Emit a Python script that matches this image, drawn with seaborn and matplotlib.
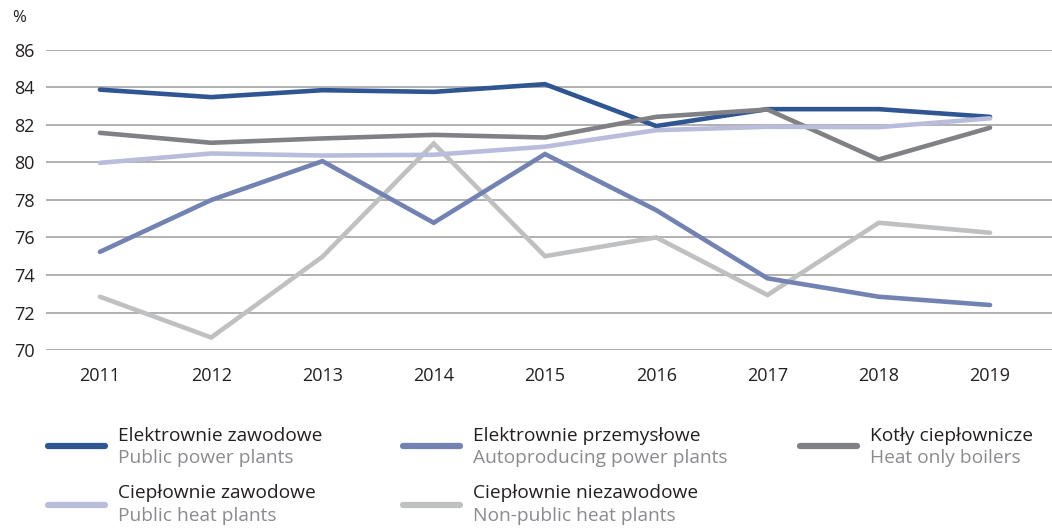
import pandas as pd
import matplotlib.pyplot as plt
import seaborn as sns
from matplotlib.lines import Line2D

sns.set_style("white")

years = [2011, 2012, 2013, 2014, 2015, 2016, 2017, 2018, 2019]
public_power = [83.87, 83.47, 83.84, 83.75, 84.16, 81.93, 82.83, 82.83, 82.42]
autoproducing = [75.23, 77.99, 80.06, 76.78, 80.44, 77.45, 73.82, 72.84, 72.40]
heat_boilers = [81.57, 81.04, 81.27, 81.46, 81.32, 82.42, 82.81, 80.15, 81.84]
public_heat = [79.97, 80.47, 80.36, 80.40, 80.83, 81.71, 81.89, 81.87, 82.34]
nonpublic_heat = [72.84, 70.67, 74.97, 81.00, 75.00, 76.00, 72.93, 76.78, 76.25]

names_pl = ["Elektrownie zawodowe", "Elektrownie przemysłowe", "Kotły ciepłownicze",
            "Ciepłownie zawodowe", "Ciepłownie niezawodowe"]
names_en = ["Public power plants", "Autoproducing power plants", "Heat only boilers",
            "Public heat plants", "Non-public heat plants"]
colors = ["#2f5592", "#7282b3", "#808184", "#b9bddb", "#bfc0c2"]

series = [public_power, autoproducing, heat_boilers, public_heat, nonpublic_heat]
df = pd.concat([pd.DataFrame({"Year": years, "Value": s, "Series": n})
                for s, n in zip(series, names_pl)])

plt.rcParams['font.family'] = ['Open Sans', 'DejaVu Sans']

fig = plt.figure(figsize=(10.52, 5.28), dpi=100)
ax = fig.add_axes([0.0437, 0.337, 0.9563, 0.569])

sns.lineplot(data=df, x="Year", y="Value", hue="Series", palette=dict(zip(names_pl, colors)),
             hue_order=names_pl, linewidth=3.3, legend=False, ax=ax, zorder=3)
for l in ax.lines:
    l.set_solid_capstyle("round")
    l.set_solid_joinstyle("miter")
# non-public heat and autoproducing sit behind the others
ax.lines[4].set_zorder(2)
ax.lines[1].set_zorder(2.5)

ax.set_xlim(2010.515, 2019.557)
ax.set_ylim(70, 86)
ax.set_yticks(range(70, 87, 2))
ax.set_xticks(years)
ax.set_xticklabels([str(y) for y in years])
ax.yaxis.grid(True, color="#a3a3a3", linewidth=1.2)
ax.set_axisbelow(True)
for s in ax.spines.values():
    s.set_visible(False)
ax.tick_params(axis="y", length=0, pad=8, labelsize=13, labelcolor="#231f20")
ax.tick_params(axis="x", length=0, pad=12, labelsize=13, labelcolor="#231f20")
ax.set_xlabel("")
ax.set_ylabel("")
fig.text(12 / 1052, 1 - 18 / 528, "%", fontsize=12, color="#231f20", va="center")

# legend
hx = [48, 403, 800]
rows = [(446, 436, 458), (505, 493, 516)]
for i, (pl, en, c) in enumerate(zip(names_pl, names_en, colors)):
    r, col = divmod(i, 3)
    yh, yp, ye = rows[r]
    x0 = hx[col]
    fig.add_artist(Line2D([x0 / 1052, (x0 + 57) / 1052], [1 - yh / 528, 1 - yh / 528],
                          color=c, linewidth=4.5, solid_capstyle="round"))
    fig.text((x0 + 70) / 1052, 1 - yp / 528, pl, fontsize=13.8, color="#231f20", va="center")
    fig.text((x0 + 70) / 1052, 1 - ye / 528, en, fontsize=13.8, color="#898b8e", va="center")

fig.savefig("out.png", dpi=100)
